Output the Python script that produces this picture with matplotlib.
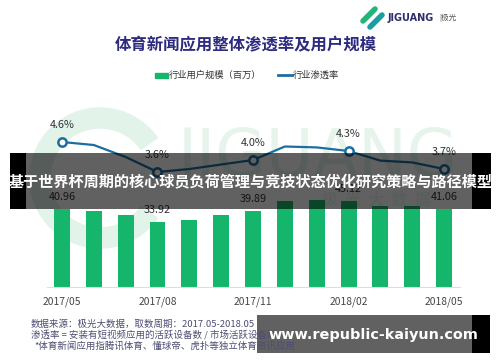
import numpy as np
import matplotlib
matplotlib.use("Agg")
import matplotlib.pyplot as plt
from matplotlib.patches import Rectangle, Wedge

plt.rcParams['font.family'] = ['Noto Sans CJK SC', 'DejaVu Sans']

# Data
months = ['2017/05', '2017/06', '2017/07', '2017/08', '2017/09', '2017/10', '2017/11',
          '2017/12', '2018/01', '2018/02', '2018/03', '2018/04', '2018/05']
users = [40.96, 39.9, 37.8, 33.92, 35.2, 37.8, 39.89, 45.1, 45.7, 45.12, 42.5, 42.5, 41.06]
rate = [4.6, 4.5, 4.1, 3.6, 3.7, 3.85, 4.0, 4.45, 4.42, 4.3, 3.98, 3.92, 3.7]
labeled = [0, 3, 6, 9, 12]
tick_labels = [months[i] for i in labeled]

title = "体育新闻应用整体渗透率及用户规模"
legend_bar = "行业用户规模（百万）"
legend_line = "行业渗透率"
notes = ["数据来源：极光大数据，取数周期：2017.05-2018.05",
         "渗透率 = 安装有短视频应用的活跃设备数 / 市场活跃设备数",
         "*体育新闻应用指腾讯体育、懂球帝、虎扑等独立体育资讯应用"]
banner = "基于世界杯周期的核心球员负荷管理与竞技状态优化研究策略与路径模型"
site = "www.republic-kaiyun.com"

green = "#16b56c"
blue = "#1b6fa0"

fig = plt.figure(figsize=(5, 3.62), dpi=100)

# background layer in pixel coords (watermark)
bg = fig.add_axes([0, 0, 1, 1], zorder=-1)
bg.set_xlim(0, 500); bg.set_ylim(362, 0); bg.axis("off")
bg.add_patch(Wedge((100, 178), 70, 35, 325, width=20, color="#e2f3ea"))
bg.text(318, 158, "JIGUANG", fontsize=47, color="#e6f4ec", ha="center", va="center",
        family="DejaVu Sans")

# main chart
ax = fig.add_axes([47/500, 75/362, 413/500, 177/362])
ax.patch.set_visible(False)
x = np.arange(len(users))
ax.bar(x, users, width=0.5, color=green, zorder=2)
ax.set_xlim(-0.47, 12.5)
ax.set_ylim(0, 92.9)
for i in labeled:
    ax.annotate(f"{users[i]:.2f}", (x[i], users[i]), xytext=(0, 8.6),
                textcoords="offset points", ha="center", va="center",
                fontsize=7.8, color="#333333")
ax.set_xticks(labeled)
ax.set_xticklabels(tick_labels)
ax.tick_params(axis="x", length=0, pad=7, labelsize=7.4, labelcolor="#444444")
ax.set_yticks([])
for s in ["top", "left", "right"]:
    ax.spines[s].set_visible(False)
ax.spines["bottom"].set_color("#dddddd")
ax.spines["bottom"].set_linewidth(0.8)

ax2 = ax.twinx()
ax2.plot(x, rate, color=blue, lw=1.6, zorder=3)
ax2.plot(x[labeled], [rate[i] for i in labeled], "o", ms=6, mfc="white",
         mec=blue, mew=1.8, zorder=4)
for i in labeled:
    ax2.annotate(f"{rate[i]:.1f}%", (x[i], rate[i]), xytext=(0, 12.2),
                 textcoords="offset points", ha="center", va="center",
                 fontsize=7.8, color="#333333")
ax2.set_ylim(-0.233, 5.667)
ax2.set_yticks([])
for s in ax2.spines.values():
    s.set_visible(False)

# foreground layer: titles, legend, logo, overlays
fg = fig.add_axes([0, 0, 1, 1], zorder=5)
fg.set_xlim(0, 500); fg.set_ylim(362, 0); fg.axis("off")
fg.patch.set_visible(False)

fg.text(246, 45, title, fontsize=11.8, fontweight="bold", color="#2d2b80",
        ha="center", va="center")
fg.add_patch(Rectangle((155, 72.5), 13, 5, color=green))
fg.text(169, 75, legend_bar, fontsize=6.7, color="#333333", va="center")
fg.plot([278, 292], [75, 75], color=blue, lw=2)
fg.text(293, 75, legend_line, fontsize=6.7, color="#333333", va="center")

# logo
fg.plot([363, 375], [21, 9], color="#22b47a", lw=4, solid_capstyle="round")
fg.plot([370, 382], [27, 15], color="#1a9fa0", lw=4, solid_capstyle="round")
fg.text(388, 18, "JIGUANG", fontsize=7, fontweight="bold", color="#2b2f6b",
        va="center", family="DejaVu Sans")
fg.text(439, 18, "|极光", fontsize=5.5, color="#555555", va="center")

# faint watermark over bars
fg.text(376, 199, "极  光  大  数  据", fontsize=11.5, color="#1d4d35", alpha=0.12,
        ha="center", va="center", fontweight="bold")

# footnotes
for k, (nx, ny) in enumerate([(31, 324), (31, 335), (34, 346)]):
    fg.text(nx, ny, notes[k], fontsize=6.8, color="#4d4d75", va="center")

# banner overlay
fg.add_patch(Rectangle((10, 153), 481, 56, color="black", alpha=0.62, lw=0))
fg.add_patch(Rectangle((10, 153), 16, 56, color="black", lw=0))
fg.add_patch(Rectangle((472, 153), 19, 56, color="black", lw=0))
fg.text(251, 181, banner, fontsize=10.9, fontweight="bold", color="white",
        ha="center", va="center")

# site overlay
fg.add_patch(Rectangle((257, 315), 233, 38, color="black", alpha=0.62, lw=0))
fg.add_patch(Rectangle((472, 315), 18, 38, color="black", lw=0))
fg.text(373, 335, site, fontsize=10.4, fontweight="bold", color="white",
        ha="center", va="center", family="DejaVu Sans")

fig.savefig("out.png", dpi=100)
